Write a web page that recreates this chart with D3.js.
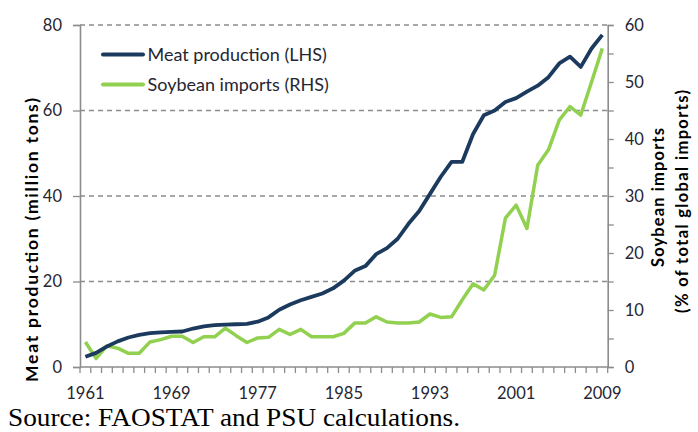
<!DOCTYPE html>
<html><head><meta charset="utf-8">
<script src="https://cdn.jsdelivr.net/npm/d3@7"></script>
<style>body{margin:0;background:#fff;} svg{display:block;}</style>
</head><body>
<svg id="c" width="698" height="432"></svg>
<script>
const years = d3.range(1961, 2010);
const meatProduction = [2.4,3.3,4.8,6.0,6.9,7.5,7.9,8.1,8.2,8.3,9.0,9.5,9.8,9.9,10.0,10.1,10.6,11.6,13.4,14.6,15.6,16.4,17.2,18.4,20.2,22.5,23.6,26.4,27.8,30.0,33.5,36.5,40.5,44.5,48.0,48.0,54.5,58.9,60.0,62.0,62.9,64.4,65.8,67.8,71.0,72.6,70.2,74.5,77.7];
const soybeanImports = [4.4,1.5,3.7,3.3,2.4,2.4,4.4,4.8,5.4,5.4,4.3,5.3,5.3,6.8,5.5,4.3,5.1,5.2,6.6,5.7,6.6,5.3,5.3,5.3,5.9,7.7,7.7,8.8,7.9,7.7,7.7,7.9,9.3,8.7,8.8,11.8,14.6,13.5,16.1,26.1,28.4,24.3,35.4,38.1,43.3,45.7,44.2,50.0,55.9];
const leftTicks = [0,20,40,60,80];
const rightTicks = [0,10,20,30,40,50,60];
const xLabels = [1961,1969,1977,1985,1993,2001,2009];
const seriesNames = ["Meat production (LHS)","Soybean imports (RHS)"];
const colors = ["#1b3a5e","#92d050"];

const svg = d3.select("#c");
const m = {l:80, r:607.7, t:25, b:367};
const x = d3.scaleBand().domain(years).range([m.l, m.r]).padding(0);
const cx = d => x(d) + x.bandwidth()/2;
const yL = d3.scaleLinear().domain([0,80]).range([m.b, m.t]);
const yR = d3.scaleLinear().domain([0,60]).range([m.b, m.t]);
const font = "Lato, 'Open Sans', sans-serif";
const txt = "#262633";

// gridlines
svg.append("g").selectAll("line").data(leftTicks.filter(d=>d>0)).join("line")
  .attr("x1", m.l).attr("x2", m.r).attr("y1", d=>yL(d)).attr("y2", d=>yL(d))
  .attr("stroke","#8c8c8c").attr("stroke-width",1.3).attr("stroke-dasharray","5,4");

// left axis
const gL = svg.append("g").attr("transform",`translate(${m.l},0)`)
  .call(d3.axisLeft(yL).tickValues(leftTicks).tickSize(7).tickPadding(11));
// right axis
const gR = svg.append("g").attr("transform",`translate(${m.r},0)`)
  .call(d3.axisRight(yR).tickValues(d3.range(0,61,5)).tickSize(6).tickPadding(11)
    .tickFormat(d => rightTicks.includes(d) ? d : ""));
// bottom axis
const gB = svg.append("g").attr("transform",`translate(0,${m.b})`)
  .call(d3.axisBottom(x).tickValues(years).tickSize(0).tickPadding(20)
    .tickFormat(d => xLabels.includes(d) ? d : ""));
// category boundary ticks
const bounds = years.map(d=>x(d)).concat([m.r]);
svg.append("g").selectAll("line").data(bounds).join("line")
  .attr("x1",d=>d).attr("x2",d=>d).attr("y1",m.b).attr("y2",m.b+6)
  .attr("stroke","#8c8c8c").attr("stroke-width",1.3);

[gL,gR,gB].forEach(g=>{
  g.selectAll("path.domain").attr("stroke","#8c8c8c").attr("stroke-width",1.6);
  g.selectAll(".tick line").attr("stroke","#8c8c8c").attr("stroke-width",1.3);
  g.selectAll("text").attr("font-family",font).attr("font-size",16.5).attr("fill",txt);
});
gB.select("path.domain").attr("d",`M${m.l},0H${m.r}`);

// lines
const lineL = d3.line().x((d,i)=>cx(years[i])).y(d=>yL(d));
const lineR = d3.line().x((d,i)=>cx(years[i])).y(d=>yR(d));
svg.append("path").datum(soybeanImports).attr("d",lineR).attr("fill","none")
  .attr("stroke",colors[1]).attr("stroke-width",3.5).attr("stroke-linejoin","round");
svg.append("path").datum(meatProduction).attr("d",lineL).attr("fill","none")
  .attr("stroke",colors[0]).attr("stroke-width",3.8).attr("stroke-linejoin","round");

// legend
const lg = svg.append("g");
seriesNames.forEach((n,i)=>{
  const yy = 54.5 + i*30;
  lg.append("line").attr("x1",103).attr("x2",143).attr("y1",yy).attr("y2",yy)
    .attr("stroke",colors[i]).attr("stroke-width",4).attr("stroke-linecap","round");
  lg.append("text").attr("x",147.5).attr("y",yy).attr("dy","0.35em")
    .attr("font-family",font).attr("font-size",18).attr("fill",txt).text(n);
});

// axis titles
svg.append("text").attr("transform","translate(38,240) rotate(-90)")
  .attr("text-anchor","middle").attr("font-family",font).attr("font-weight","bold")
  .attr("font-size",17.5).attr("fill","#000")
  .attr("textLength",284).attr("lengthAdjust","spacing")
  .text("Meat production (million tons)");
svg.append("text").attr("transform","translate(664,197.5) rotate(-90)")
  .attr("text-anchor","middle").attr("font-family",font).attr("font-weight","bold")
  .attr("font-size",16.5).attr("fill","#000")
  .attr("textLength",139).attr("lengthAdjust","spacing").text("Soybean imports");
svg.append("text").attr("transform","translate(688,201.5) rotate(-90)")
  .attr("text-anchor","middle").attr("font-family",font).attr("font-weight","bold")
  .attr("font-size",16.5).attr("fill","#000")
  .attr("textLength",223).attr("lengthAdjust","spacing").text("(% of total global imports)");

// source
svg.append("text").attr("x",8).attr("y",426).attr("font-family","'Liberation Serif','Times New Roman',serif")
  .attr("font-size",25.5).attr("fill","#000")
  .attr("textLength",452).attr("lengthAdjust","spacingAndGlyphs")
  .text("Source: FAOSTAT and PSU calculations.");
</script>
</body></html>
